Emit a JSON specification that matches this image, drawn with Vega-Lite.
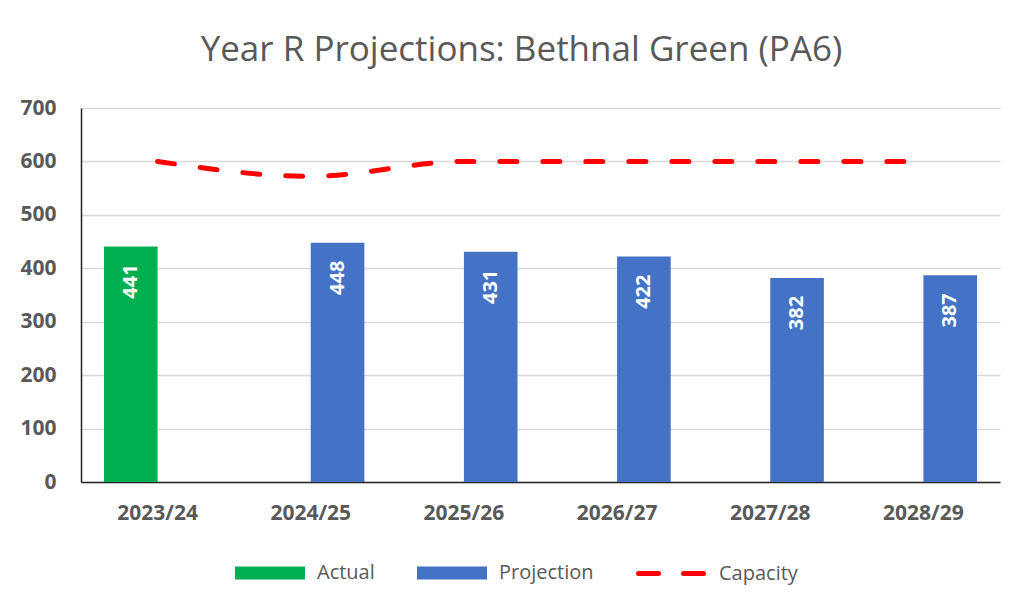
{
  "$schema": "https://vega.github.io/schema/vega-lite/v6.json",
  "width": 919,
  "height": 374,
  "autosize": {"type": "none"},
  "padding": {"left": 81, "top": 108, "right": 29, "bottom": 132},
  "background": "white",
  "config": {
    "view": {"stroke": null},
    "font": "Open Sans"
  },
  "title": {
    "text": "Year R Projections: Bethnal Green (PA6)",
    "fontSize": 35,
    "fontWeight": "normal",
    "color": "#595959",
    "font": "Open Sans",
    "anchor": "middle",
    "dx": -19,
    "offset": 29
  },
  "datasets": {
    "bars": [
      {"year": "2023/24", "series": "Actual", "value": 441},
      {"year": "2024/25", "series": "Projection", "value": 448},
      {"year": "2025/26", "series": "Projection", "value": 431},
      {"year": "2026/27", "series": "Projection", "value": 422},
      {"year": "2027/28", "series": "Projection", "value": 382},
      {"year": "2028/29", "series": "Projection", "value": 387}
    ],
    "capacity": [
      {"year": "2023/24", "series": "Capacity", "value": 600},
      {"year": "2024/25", "series": "Capacity", "value": 572},
      {"year": "2025/26", "series": "Capacity", "value": 600},
      {"year": "2026/27", "series": "Capacity", "value": 600},
      {"year": "2027/28", "series": "Capacity", "value": 600},
      {"year": "2028/29", "series": "Capacity", "value": 600}
    ]
  },
  "encoding": {
    "x": {
      "field": "year",
      "type": "nominal",
      "sort": null,
      "scale": {"paddingInner": 0.3, "paddingOuter": 0.15},
      "axis": {
        "title": null,
        "labelAngle": 0,
        "labelFontSize": 21,
        "labelFontWeight": "bold",
        "labelColor": "#595959",
        "labelPadding": 20,
        "ticks": false,
        "domainColor": "#262626",
        "domainWidth": 1.5,
        "grid": false
      }
    },
    "y": {
      "field": "value",
      "type": "quantitative",
      "scale": {"domain": [0, 700], "nice": false},
      "axis": {
        "title": null,
        "values": [0, 100, 200, 300, 400, 500, 600, 700],
        "labelFontSize": 21,
        "labelFontWeight": "bold",
        "labelColor": "#595959",
        "labelPadding": 25,
        "ticks": false,
        "domainColor": "#262626",
        "domainWidth": 1.5,
        "gridColor": "#D9D9D9",
        "gridWidth": 1.5
      }
    }
  },
  "layer": [
    {
      "data": {"name": "bars"},
      "mark": {"type": "bar"},
      "encoding": {
        "xOffset": {
          "field": "series",
          "type": "nominal",
          "scale": {"domain": ["Actual", "Projection"], "paddingInner": 0, "paddingOuter": 0}
        },
        "fill": {
          "field": "series",
          "type": "nominal",
          "scale": {"domain": ["Actual", "Projection"], "range": ["#00B050", "#4472C4"]},
          "legend": {
            "title": null,
            "orient": "none",
            "legendX": 154,
            "legendY": 430,
            "direction": "horizontal",
            "symbolType": "M-1,-0.186H1V0.186H-1Z",
            "symbolSize": 4900,
            "symbolStrokeWidth": 0,
            "symbolOpacity": 1,
            "labelFontSize": 20,
            "labelColor": "#595959",
            "labelFont": "Open Sans",
            "labelOffset": 12,
            "columnPadding": 42
          }
        }
      }
    },
    {
      "data": {"name": "bars"},
      "mark": {
        "type": "text",
        "angle": 270,
        "align": "right",
        "baseline": "middle",
        "dx": -18,
        "fontSize": 20,
        "fontWeight": "bold",
        "color": "white"
      },
      "encoding": {
        "xOffset": {
          "field": "series",
          "type": "nominal",
          "scale": {"domain": ["Actual", "Projection"], "paddingInner": 0, "paddingOuter": 0}
        },
        "text": {"field": "value", "type": "quantitative"}
      }
    },
    {
      "data": {"name": "capacity"},
      "mark": {
        "type": "line",
        "strokeWidth": 5,
        "strokeDash": [17, 26],
        "strokeCap": "round",
        "interpolate": "monotone"
      },
      "encoding": {
        "stroke": {
          "field": "series",
          "type": "nominal",
          "scale": {"domain": ["Capacity"], "range": ["#FF0000"]},
          "legend": {
            "title": null,
            "orient": "none",
            "legendX": 555,
            "legendY": 428,
            "symbolType": "stroke",
            "symbolSize": 4900,
            "symbolStrokeWidth": 5,
            "symbolDash": [20, 25],
            "labelFontSize": 20,
            "labelColor": "#595959",
            "labelFont": "Open Sans",
            "labelOffset": 8,
            "encode": {"symbols": {"update": {"strokeCap": {"value": "round"}}}}
          }
        }
      }
    }
  ]
}
